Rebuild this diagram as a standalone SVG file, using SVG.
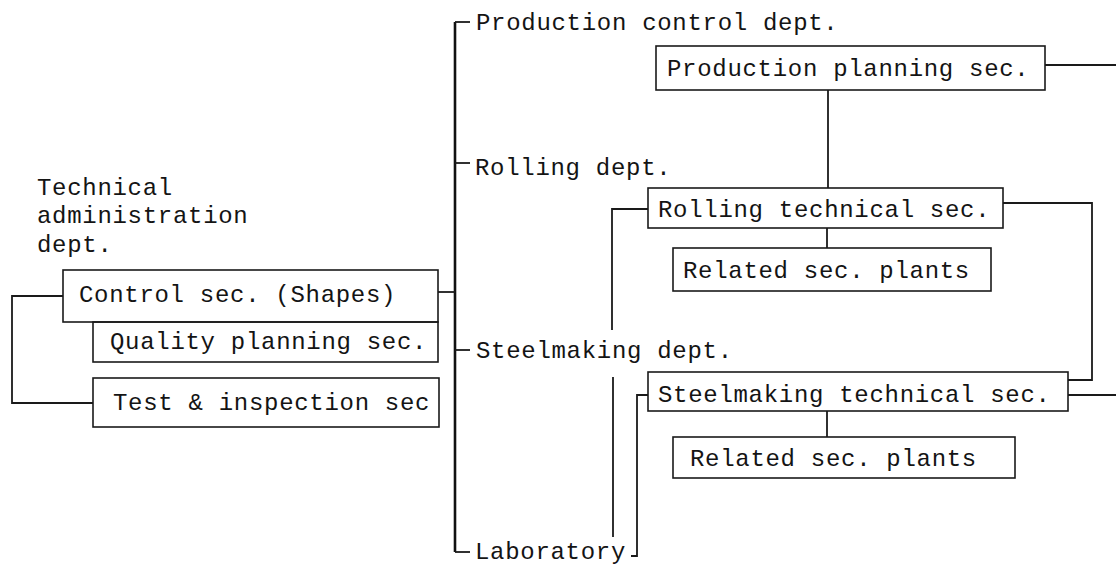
<svg xmlns="http://www.w3.org/2000/svg" width="1116" height="564" viewBox="0 0 1116 564">
  <style>
    .bg { fill: #ffffff; }
    .box { fill: none; stroke: #1a1a1a; stroke-width: 1.6; }
    .wire { fill: none; stroke: #1a1a1a; stroke-width: 1.8; }
    .trunk { fill: none; stroke: #111111; stroke-width: 2.6; }
    text { font-family: "Liberation Mono", "DejaVu Sans Mono", monospace; font-size: 24px; letter-spacing: 0.7px; fill: #141414; }
  </style>
  <rect class="bg" x="0" y="0" width="1116" height="564"/>

  <!-- connectors -->
  <g id="connectors">
    <!-- main trunk with department ticks -->
    <path class="trunk" d="M455,22 V552"/>
    <path class="wire" d="M455,22 H470"/>
    <path class="wire" d="M455,163 H470"/>
    <path class="wire" d="M455,350 H470"/>
    <path class="wire" d="M455,552 H470"/>
    <!-- control section to trunk -->
    <path class="wire" d="M438,292 H455"/>
    <!-- bracket joining control and test sections -->
    <path class="wire" d="M63,296 H12 V403 H93"/>
    <!-- production planning links -->
    <path class="wire" d="M1045,65 H1116"/>
    <path class="wire" d="M828,90 V188"/>
    <!-- rolling technical links -->
    <path class="wire" d="M648,209 H612 V330"/>
    <path class="wire" d="M613,377 V537"/>
    <path class="wire" d="M827,228 V248"/>
    <path class="wire" d="M1003,203 H1092 V380 H1068"/>
    <!-- steelmaking technical links -->
    <path class="wire" d="M648,395 H637 V556 H631"/>
    <path class="wire" d="M1068,395 H1116"/>
    <path class="wire" d="M827,411 V437"/>
  </g>

  <!-- department labels -->
  <g id="dept-production-control"><text x="476" y="30">Production control dept.</text></g>
  <g id="dept-rolling"><text x="475" y="175">Rolling dept.</text></g>
  <g id="dept-steelmaking"><text x="476" y="358">Steelmaking dept.</text></g>
  <g id="dept-laboratory"><text x="475" y="559">Laboratory</text></g>
  <g id="dept-technical-admin">
    <text x="37" y="195">Technical</text>
    <text x="37" y="223">administration</text>
    <text x="37" y="252">dept.</text>
  </g>

  <!-- technical administration sections -->
  <g id="control-sec">
    <rect class="box" x="63" y="270" width="375" height="52"/>
    <text x="79" y="302">Control sec. (Shapes)</text>
  </g>
  <g id="quality-planning-sec">
    <rect class="box" x="93" y="322" width="345" height="40"/>
    <text x="110" y="349">Quality planning sec.</text>
  </g>
  <g id="test-inspection-sec">
    <rect class="box" x="93" y="378" width="346" height="49"/>
    <text x="113" y="410">Test &amp; inspection sec</text>
  </g>

  <!-- production / rolling / steelmaking sections -->
  <g id="production-planning-sec">
    <rect class="box" x="656" y="46" width="389" height="44"/>
    <text x="667" y="76">Production planning sec.</text>
  </g>
  <g id="rolling-technical-sec">
    <rect class="box" x="648" y="188" width="355" height="40"/>
    <text x="658" y="217">Rolling technical sec.</text>
  </g>
  <g id="rolling-related-plants">
    <rect class="box" x="673" y="248" width="318" height="43"/>
    <text x="683" y="278">Related sec. plants</text>
  </g>
  <g id="steelmaking-technical-sec">
    <rect class="box" x="648" y="372" width="420" height="39"/>
    <text x="658" y="402">Steelmaking technical sec.</text>
  </g>
  <g id="steelmaking-related-plants">
    <rect class="box" x="673" y="437" width="342" height="41"/>
    <text x="690" y="466">Related sec. plants</text>
  </g>
</svg>
